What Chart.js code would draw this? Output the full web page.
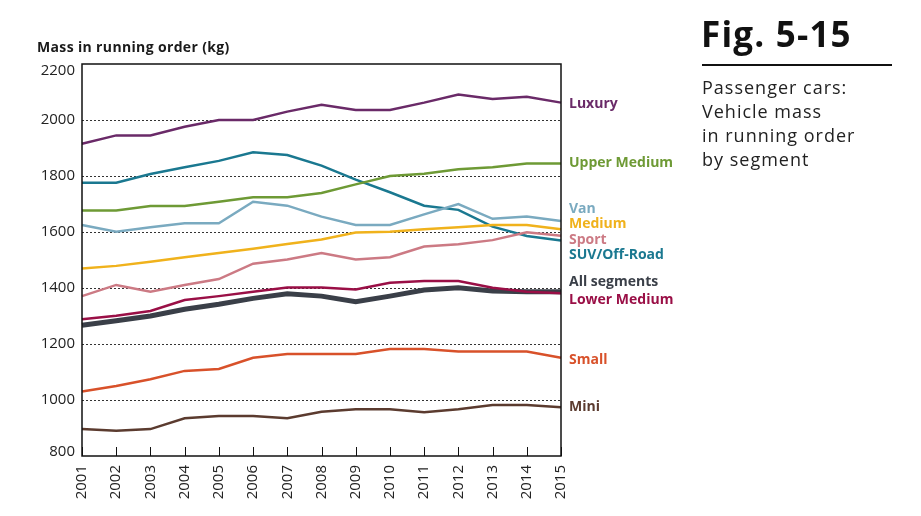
<!DOCTYPE html>
<html><head><meta charset="utf-8">
<script src="https://cdn.jsdelivr.net/npm/chart.js@4.4.1/dist/chart.umd.min.js"></script>
<style>
html,body{margin:0;padding:0;background:#fff;}
#wrap{position:relative;width:921px;height:516px;overflow:hidden;}
canvas{position:absolute;left:0;top:0;}
#ytitle{position:absolute;left:37px;top:37px;font:bold 14px "Open Sans";letter-spacing:0.35px;color:#1a1a1a;white-space:nowrap;}
#fig{position:absolute;left:701px;top:10px;font:bold 35px "Open Sans";letter-spacing:1.2px;color:#111;white-space:nowrap;}
#rule{position:absolute;left:702px;top:64px;width:190px;height:2px;background:#111;}
#desc{position:absolute;left:702px;top:75px;font:18px/24px "Open Sans";letter-spacing:1px;color:#222;}
</style></head>
<body><div id="wrap">
<canvas id="c" width="921" height="516"></canvas>
<div id="ytitle">Mass in running order (kg)</div>
<div id="fig">Fig. 5-15</div>
<div id="rule"></div>
<div id="desc">Passenger cars:<br>Vehicle mass<br>in running order<br>by segment</div>
</div>
<script>
const years = ['2001','2002','2003','2004','2005','2006','2007','2008','2009','2010','2011','2012','2013','2014','2015'];
const luxury      = [1915,1945,1945,1976,2000,2000,2030,2054,2036,2036,2062,2091,2075,2083,2062];
const upperMedium = [1677,1677,1693,1693,1708,1724,1724,1739,1770,1800,1808,1824,1831,1845,1845];
const van         = [1625,1601,1617,1631,1631,1708,1694,1655,1625,1625,1663,1700,1647,1655,1639];
const medium      = [1470,1479,1494,1510,1525,1540,1557,1573,1598,1601,1610,1617,1625,1625,1610];
const sport       = [1371,1411,1387,1411,1432,1487,1502,1525,1502,1510,1548,1556,1571,1599,1587];
const suv         = [1776,1776,1807,1831,1854,1885,1875,1837,1787,1742,1694,1679,1619,1586,1570];
const allSegments = [1267,1283,1300,1324,1342,1363,1379,1371,1351,1371,1393,1401,1389,1387,1387];
const lowerMedium = [1288,1301,1318,1357,1371,1387,1402,1402,1395,1419,1425,1425,1401,1387,1381];
const small       = [1030,1050,1074,1104,1111,1151,1164,1164,1164,1182,1182,1173,1173,1173,1151];
const mini        = [896,890,896,935,943,943,935,958,967,967,956,967,982,982,974];
const yTicks = [800,1000,1200,1400,1600,1800,2000,2200];
const seriesNames = ['Luxury','Upper Medium','Van','Medium','Sport','SUV/Off-Road','Lower Medium','All segments','Small','Mini'];
const seriesData = [luxury,upperMedium,van,medium,sport,suv,lowerMedium,allSegments,small,mini];
const seriesColors = ['#6a2a68','#6e9a35','#7aaac0','#f0b21c','#cc7a84','#1a7890','#9a0f46','#3a3f48','#d8512a','#5b3b2f'];
const seriesWidths = [2.5,2.5,2.5,2.5,2.5,2.5,2.5,5,2.5,2.5];
// label anchor values (in kg) for the right-side series names
const labelAt = [2057,1846,1682,1629,1571,1518,1357,1421,1143,975];

const boxPlugin = {
  id:'box',
  afterDraw(chart){
    const {ctx, chartArea:a, scales} = chart;
    ctx.save();
    ctx.strokeStyle='#111'; ctx.lineWidth=1;
    const xs = scales.x;
    for(let i=0;i<xs.ticks.length;i++){
      const px = Math.round(xs.getPixelForTick(i))+0.5;
      ctx.beginPath(); ctx.moveTo(px,a.bottom); ctx.lineTo(px,a.bottom-9); ctx.stroke();
    }
    ctx.lineWidth=1.5; ctx.strokeStyle='#111';
    ctx.strokeRect(a.left,a.top,a.right-a.left,a.bottom-a.top);
    const ys = scales.y;
    // y tick labels, end labels kept inside the box
    ctx.font='15px "Open Sans"'; ctx.fillStyle='#222'; ctx.textAlign='right'; ctx.textBaseline='middle';
    yTicks.forEach(v=>{
      let py = ys.getPixelForValue(v);
      py = Math.min(Math.max(py, a.top+7), a.bottom-4);
      ctx.fillText(String(v), a.left-7, py);
    });
    ctx.font='bold 14px "Open Sans"'; ctx.textBaseline='middle'; ctx.textAlign='left';
    seriesNames.forEach((n,i)=>{
      ctx.fillStyle = seriesColors[i];
      ctx.fillText(n, a.right+8, ys.getPixelForValue(labelAt[i]));
    });
    ctx.restore();
  }
};

new Chart(document.getElementById('c'), {
  type:'line',
  data:{
    labels: years,
    datasets: seriesNames.map((n,i)=>({
      label:n, data:seriesData[i], borderColor:seriesColors[i], backgroundColor:seriesColors[i],
      borderWidth:seriesWidths[i], pointRadius:0, tension:0, fill:false,
      order: n==='All segments' ? 20 : i
    }))
  },
  options:{
    responsive:false, animation:false,
    devicePixelRatio:1,
    layout:{padding:{left:0,top:64,right:360,bottom:0}},
    plugins:{legend:{display:false},tooltip:{enabled:false}},
    scales:{
      x:{
        grid:{display:false,drawTicks:false},
        border:{display:false},
        ticks:{maxRotation:90,minRotation:90,padding:9,color:'#222',font:{family:'Open Sans',size:15}},
        afterFit(s){ s.height = 60; }
      },
      y:{
        min:800,max:2200,
        afterBuildTicks(s){ s.ticks = yTicks.map(v=>({value:v})); },
        grid:{drawTicks:false,color:(c)=> (c.tick && (c.tick.value===800||c.tick.value===2200)) ? 'rgba(0,0,0,0)' : '#333', lineWidth:1},
        border:{display:false,dash:[2,2]},
        ticks:{display:false},
        afterFit(s){ s.width = 82; }
      }
    }
  },
  plugins:[boxPlugin]
});
</script>
</body></html>
